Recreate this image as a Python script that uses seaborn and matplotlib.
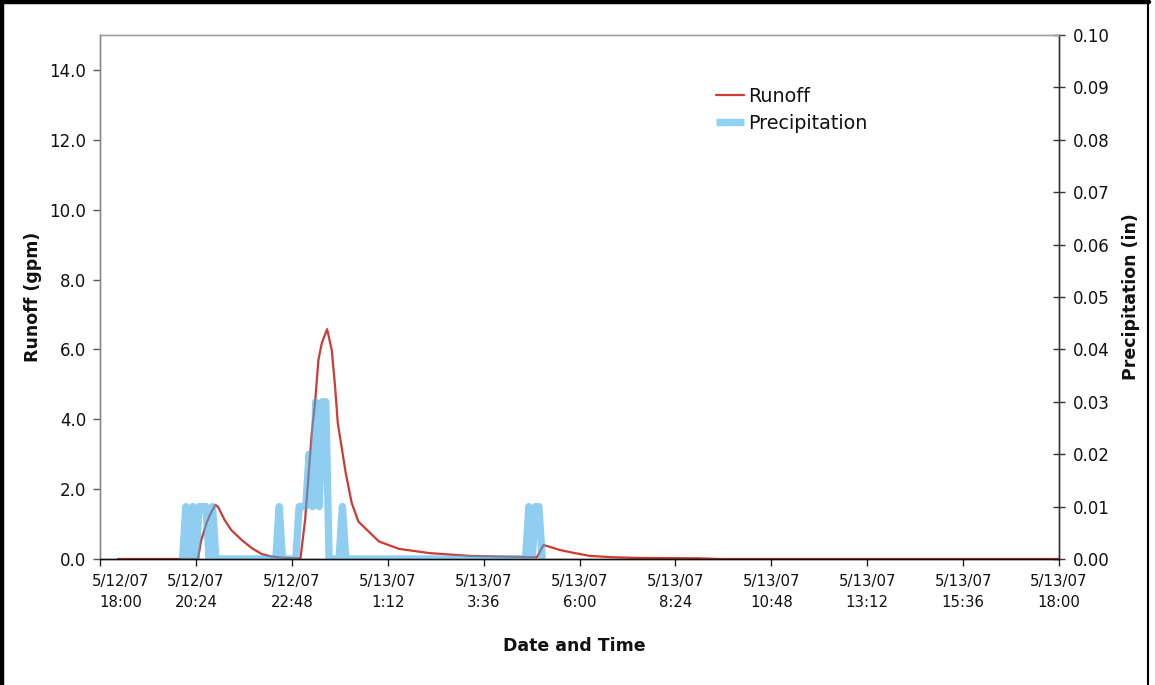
import matplotlib
matplotlib.use("Agg")
import numpy as np
import pandas as pd
import seaborn as sns
import matplotlib.pyplot as plt
import matplotlib.transforms as mtransforms
from matplotlib.lines import Line2D

# ---------------- data ----------------
# runoff: minutes after 5/12/07 18:00, flow in gpm
runoff_min = [27, 147, 152, 160, 165, 173, 177, 187, 197, 213, 228, 243, 258, 278,
              298, 301, 308, 313, 318, 323, 328, 333, 341, 348, 353, 357, 362, 369,
              378, 388, 419, 449, 494, 554, 600, 630, 650, 656, 666, 682, 690, 710,
              735, 770, 810, 900, 930, 1440]
runoff_gpm = [0.0, 0.0, 0.54, 1.03, 1.26, 1.55, 1.50, 1.12, 0.83, 0.54, 0.31, 0.14, 0.07, 0.03,
              0.02, 0.02, 1.12, 2.36, 3.60, 4.50, 5.70, 6.18, 6.58, 5.98, 4.93, 3.90, 3.30, 2.46,
              1.60, 1.07, 0.50, 0.29, 0.17, 0.09, 0.07, 0.06, 0.05, 0.05, 0.40, 0.31, 0.26, 0.18,
              0.09, 0.05, 0.03, 0.02, 0.0, 0.0]

# precipitation: 5-minute totals (in) from 5/12/07 20:04 to 5/13/07 5:04
precip_start_min = 124
precip_step_min = 5
precip_in = [
    0, .01, 0, .01, 0, .01, .01, .01, 0, .01, 0, 0,          # 20:04 - 20:59
    0, 0, 0, 0, 0, 0, 0, 0, 0, 0, 0, 0,                      # 21:04 - 21:59
    0, 0, 0, 0, 0, .01, 0, 0, 0, 0, 0, .01,                  # 22:04 - 22:59
    .01, .01, .02, .01, .03, .01, .03, .03, 0, 0, 0, 0,      # 23:04 - 23:59
    .01, 0, 0, 0, 0, 0, 0, 0, 0, 0, 0, 0,                    # 0:04 - 0:59
    0, 0, 0, 0, 0, 0, 0, 0, 0, 0, 0, 0,                      # 1:04 - 1:59
    0, 0, 0, 0, 0, 0, 0, 0, 0, 0, 0, 0,                      # 2:04 - 2:59
    0, 0, 0, 0, 0, 0, 0, 0, 0, 0, 0, 0,                      # 3:04 - 3:59
    0, 0, 0, 0, 0, 0, 0, 0, .01, 0, .01, .01,                # 4:04 - 4:59
    0,                                                       # 5:04
]

x_tick_labels = ["5/12/07\n18:00", "5/12/07\n20:24", "5/12/07\n22:48", "5/13/07\n1:12",
                 "5/13/07\n3:36", "5/13/07\n6:00", "5/13/07\n8:24", "5/13/07\n10:48",
                 "5/13/07\n13:12", "5/13/07\n15:36", "5/13/07\n18:00"]
left_ticks = [0, 2, 4, 6, 8, 10, 12, 14]
right_ticks = [0.00, 0.01, 0.02, 0.03, 0.04, 0.05, 0.06, 0.07, 0.08, 0.09, 0.10]

runoff_df = pd.DataFrame({"minutes": runoff_min, "Runoff": runoff_gpm})
precip_df = pd.DataFrame({
    "minutes": precip_start_min + precip_step_min * np.arange(len(precip_in)),
    "Precipitation": precip_in,
})

# ---------------- style ----------------
sns.set_theme(style="white")
plt.rcParams["font.family"] = ["DejaVu Sans"]
RED = "#cf3a32"
BLUE_SEEN = "#8fd1f0"          # blue as it appears over white
BLUE_BASE = "#44aee6"          # drawn with alpha so the runoff shows through
BLUE_ALPHA = 0.6
TXT = "#111111"
PLW = 5.3

fig = plt.figure(figsize=(11.55, 6.85), dpi=100)
ax = fig.add_axes([100 / 1155, 1 - 559 / 685, 959 / 1155, 524 / 685])
ax2 = ax.twinx()

sns.lineplot(data=runoff_df, x="minutes", y="Runoff", ax=ax, color=RED, linewidth=1.6)
sns.lineplot(data=precip_df, x="minutes", y="Precipitation", ax=ax2, color=BLUE_BASE,
             alpha=BLUE_ALPHA, linewidth=PLW, solid_joinstyle="round", solid_capstyle="butt")

ax.set_xlim(0, 1440)
ax.set_ylim(0, 15)
ax2.set_ylim(0, 0.10)

ax.set_xticks(np.arange(0, 1441, 144))
ax.set_xticklabels(x_tick_labels, fontsize=10.7, color=TXT, linespacing=1.45)
ax.set_yticks(left_ticks)
ax.set_yticklabels([f"{v:.1f}" for v in left_ticks], fontsize=12, color=TXT)
ax2.set_yticks(right_ticks)
ax2.set_yticklabels([f"{v:.2f}" for v in right_ticks], fontsize=12, color=TXT)

ax.tick_params(axis="x", direction="out", length=5, width=1, color="#222222", pad=6, bottom=True)
ax.tick_params(axis="y", direction="out", length=5, width=1, color="#555555", pad=5, left=True)
ax2.tick_params(axis="y", direction="inout", length=8, width=1, color="#333333", pad=6, right=True)

# shift first x tick label right like the reference
off = mtransforms.ScaledTranslation(21 / 100, 0, fig.dpi_scale_trans)
first = ax.get_xticklabels()[0]
first.set_transform(first.get_transform() + off)

for a in (ax, ax2):
    a.spines["top"].set_color("#a0a0a0")
    a.spines["left"].set_color("#8a8a8a")
    a.spines["right"].set_color("#333333")
    a.spines["bottom"].set_color("#111111")
    for s in a.spines.values():
        s.set_linewidth(1.0)

ax.set_xlabel("Date and Time", fontsize=12.5, fontweight="bold", color=TXT)
ax.set_ylabel("Runoff (gpm)", fontsize=12.5, fontweight="bold", color=TXT, labelpad=5)
ax2.set_ylabel("Precipitation (in)", fontsize=12.5, fontweight="bold", color=TXT, labelpad=8.5)
ax.xaxis.set_label_coords((574 - 100) / 959, -(637 - 559) / 524)

handles = [Line2D([], [], color=RED, linewidth=1.6),
           Line2D([], [], color=BLUE_SEEN, linewidth=PLW, solid_capstyle="butt")]
leg = ax.legend(handles, ["Runoff", "Precipitation"], loc="upper left",
                bbox_to_anchor=((716 - 100) / 959, (559 - 87) / 524),
                frameon=False, fontsize=13.8, handlelength=1.45, handletextpad=0.25,
                labelspacing=0.42, borderpad=0, borderaxespad=0)
for t in leg.get_texts():
    t.set_color(TXT)
leg.set_zorder(10)

# outer frame (left, top, right)
fig.add_artist(Line2D([2 / 1155, 2 / 1155], [0, 1], transform=fig.transFigure, color="black", linewidth=3.2))
fig.add_artist(Line2D([0, 1149 / 1155], [1 - 2 / 685, 1 - 2 / 685], transform=fig.transFigure, color="black", linewidth=3.2))
fig.add_artist(Line2D([1148 / 1155, 1148 / 1155], [0, 1], transform=fig.transFigure, color="black", linewidth=1.5))

fig.savefig("out.png", dpi=100)
